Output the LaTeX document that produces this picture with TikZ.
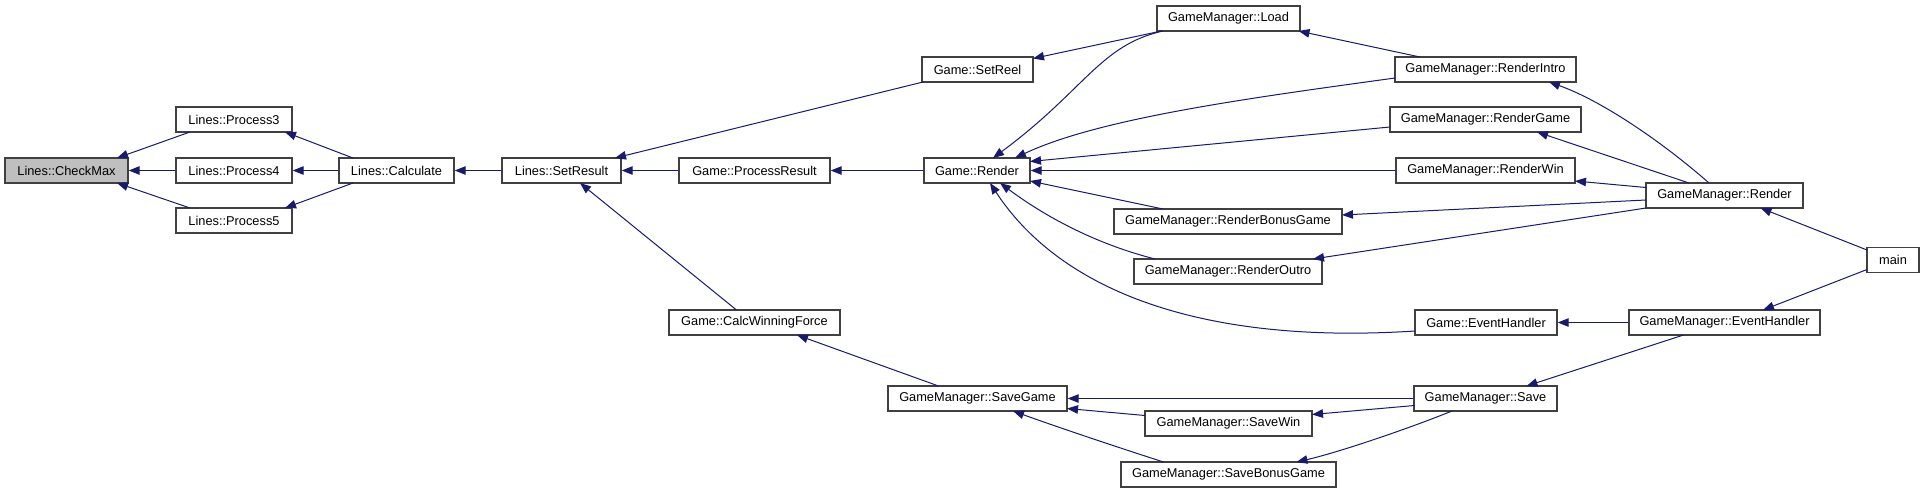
\documentclass[tikz,border=0pt]{standalone}
\usepackage{fontspec}
\setmainfont{Liberation Sans}
\usetikzlibrary{arrows.meta}
\definecolor{edgeblue}{HTML}{191970}
\definecolor{boxborder}{HTML}{404040}
\begin{document}
\begin{tikzpicture}[x=1pt,y=-1pt,
  fn/.style={draw=boxborder, line width=1.4pt, fill=white, minimum height=25pt, inner sep=0pt, font=\fontsize{12.8}{15}\selectfont, text=black},
  hl/.style={fn, fill=gray!50},
  call/.style={draw=edgeblue, line width=1pt, -{Triangle[length=11pt,width=8.5pt]}}
]
\fill[white] (0,0) rectangle (1924,493);
\useasboundingbox (0,0) rectangle (1924,493);

\node[hl, minimum width=123pt] (cm) at (66.5,170.5) {Lines::CheckMax};
\node[fn, minimum width=116pt] (p3) at (234,119.5) {Lines::Process3};
\node[fn, minimum width=116pt] (p4) at (234,170.5) {Lines::Process4};
\node[fn, minimum width=116pt] (p5) at (234,220.5) {Lines::Process5};
\node[fn, minimum width=115pt] (calc) at (396.5,170.5) {Lines::Calculate};
\node[fn, minimum width=119pt] (setres) at (561.5,170.5) {Lines::SetResult};
\node[fn, minimum width=151pt] (procres) at (754.5,170.5) {Game::ProcessResult};
\node[fn, minimum width=106pt] (grender) at (977,170.5) {Game::Render};
\node[fn, minimum width=111pt] (setreel) at (977.5,69.5) {Game::SetReel};
\node[fn, minimum width=143pt] (load) at (1228.5,18.5) {GameManager::Load};
\node[fn, minimum width=181pt] (rintro) at (1485.5,69.5) {GameManager::RenderIntro};
\node[fn, minimum width=191pt] (rgame) at (1485.5,119.5) {GameManager::RenderGame};
\node[fn, minimum width=179pt] (rwin) at (1485.5,170.5) {GameManager::RenderWin};
\node[fn, minimum width=228pt] (rbonus) at (1228,221.5) {GameManager::RenderBonusGame};
\node[fn, minimum width=188pt] (routro) at (1228,271.5) {GameManager::RenderOutro};
\node[fn, minimum width=157pt] (gmrender) at (1724.5,195.5) {GameManager::Render};
\node[fn, minimum width=52pt] (main) at (1893,260) {main};
\node[fn, minimum width=142pt] (gevent) at (1486,322.5) {Game::EventHandler};
\node[fn, minimum width=191pt] (gmevent) at (1724.5,322.5) {GameManager::EventHandler};
\node[fn, minimum width=143pt] (save) at (1485.5,398.5) {GameManager::Save};
\node[fn, minimum width=171pt] (calcwin) at (754.5,322.5) {Game::CalcWinningForce};
\node[fn, minimum width=179pt] (savegame) at (977.5,398.5) {GameManager::SaveGame};
\node[fn, minimum width=167pt] (savewin) at (1228.5,423.5) {GameManager::SaveWin};
\node[fn, minimum width=215pt] (savebonus) at (1228.5,474.5) {GameManager::SaveBonusGame};

\draw[call] ([shift={(-44,12.5)}]p3.center) -- ([shift={(50.5,-12.5)}]cm.center);
\draw[call] (p4.west) -- (cm.east);
\draw[call] ([shift={(-44,-12.5)}]p5.center) -- ([shift={(50.5,12.5)}]cm.center);
\draw[call] ([shift={(-43.5,-12.5)}]calc.center) -- ([shift={(51,12.5)}]p3.center);
\draw[call] (calc.west) -- (p4.east);
\draw[call] ([shift={(-43.5,12.5)}]calc.center) -- ([shift={(51,-12.5)}]p5.center);
\draw[call] (setres.west) -- (calc.east);
\draw[call] ([shift={(-54.5,12.5)}]setreel.center) -- ([shift={(53.5,-12.5)}]setres.center);
\draw[call] (procres.west) -- (setres.east);
\draw[call] ([shift={(-18,-12.5)}]calcwin.center) -- ([shift={(18.5,12.5)}]setres.center);
\draw[call] (grender.west) -- (procres.east);
\draw[call] ([shift={(-67,12.5)}]load.center) -- ([shift={(55.5,-11)}]setreel.center);
\draw[call] ([shift={(-65.5,12.5)}]load.center) .. controls (1100,45) and (1085,90) .. ([shift={(16,-12.5)}]grender.center);
\draw[call] ([shift={(-90.5,8.5)}]rintro.center) .. controls (1250,98) and (1100,118) .. ([shift={(38,-12.5)}]grender.center);
\draw[call] ([shift={(-95.5,7.5)}]rgame.center) -- ([shift={(53,-9)}]grender.center);
\draw[call] (rwin.west) -- (grender.east);
\draw[call] ([shift={(-65,-12.5)}]rbonus.center) -- ([shift={(53,10.5)}]grender.center);
\draw[call] ([shift={(-73,-12.5)}]routro.center) .. controls (1100,245) and (1050,220) .. ([shift={(23,12.5)}]grender.center);
\draw[call] ([shift={(-71,8.5)}]gevent.center) .. controls (1200,345) and (1060,290) .. ([shift={(13,12.5)}]grender.center);
\draw[call] ([shift={(-65.5,-12.5)}]rintro.center) -- ([shift={(70,12.5)}]load.center);
\draw[call] ([shift={(-15.5,-12.5)}]gmrender.center) .. controls (1660,140) and (1600,100) .. ([shift={(63.5,12.5)}]rintro.center);
\draw[call] ([shift={(-35.5,-12.5)}]gmrender.center) -- ([shift={(51.5,12.5)}]rgame.center);
\draw[call] ([shift={(-78.5,-8)}]gmrender.center) -- ([shift={(89.5,10.5)}]rwin.center);
\draw[call] ([shift={(-78.5,4.5)}]gmrender.center) -- ([shift={(114,-6.5)}]rbonus.center);
\draw[call] ([shift={(-78.5,12.5)}]gmrender.center) -- ([shift={(85,-12.5)}]routro.center);
\draw[call] ([shift={(-26,-10)}]main.center) -- ([shift={(36,12.5)}]gmrender.center);
\draw[call] ([shift={(-26,9.5)}]main.center) -- ([shift={(38.5,-12.5)}]gmevent.center);
\draw[call] (gmevent.west) -- (gevent.east);
\draw[call] ([shift={(-41,12.5)}]gmevent.center) -- ([shift={(41,-12.5)}]save.center);
\draw[call] ([shift={(-39,-12.5)}]savegame.center) -- ([shift={(42.5,12.5)}]calcwin.center);
\draw[call] (save.west) -- (savegame.east);
\draw[call] ([shift={(-83.5,-8)}]savewin.center) -- ([shift={(89.5,10)}]savegame.center);
\draw[call] ([shift={(-65,-12.5)}]savebonus.center) .. controls (1120,448) and (1060,428) .. ([shift={(35.5,12.5)}]savegame.center);
\draw[call] ([shift={(-71,7)}]save.center) -- ([shift={(83.5,-9)}]savewin.center);
\draw[call] ([shift={(-33.5,12.5)}]save.center) .. controls (1410,428) and (1340,452) .. ([shift={(68,-12.5)}]savebonus.center);
\end{tikzpicture}
\end{document}
